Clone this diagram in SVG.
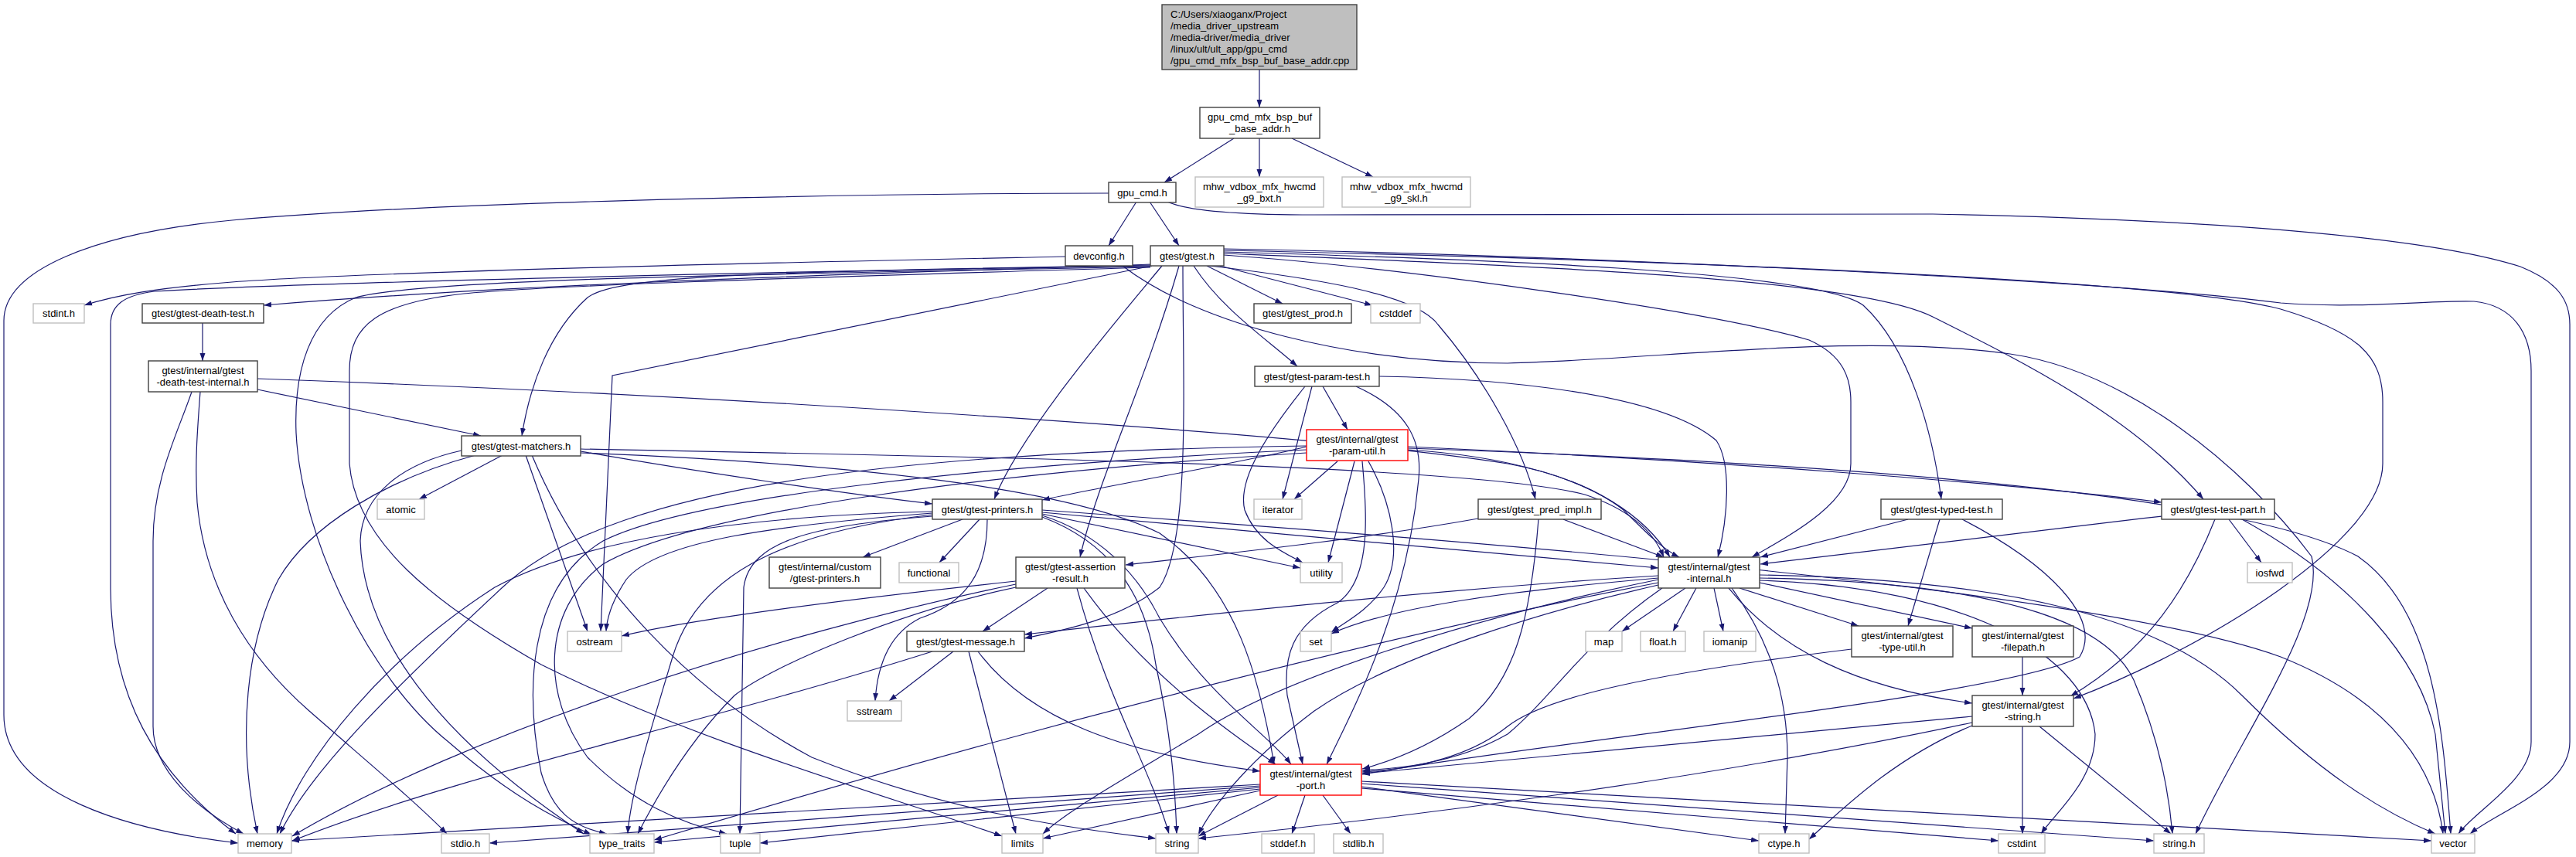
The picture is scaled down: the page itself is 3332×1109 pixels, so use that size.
<svg xmlns="http://www.w3.org/2000/svg" width="3332" height="1109" viewBox="0 0 3332 1109">
<defs>
<style>
.e{fill:none;stroke:#191970;stroke-width:1.2}
.n rect{fill:#fff;stroke:#404040;stroke-width:1.4}
.g rect{fill:#fff;stroke:#bfbfbf;stroke-width:1.4}
.r rect{fill:#fff;stroke:#ff0000;stroke-width:1.4}
.m rect{fill:#bfbfbf;stroke:#404040;stroke-width:1.4}
text{font-family:"Liberation Sans",Arial,sans-serif;font-size:13px;fill:#000;text-anchor:middle}
.m text{text-anchor:start}
</style>
<marker id="a" markerWidth="10" markerHeight="8" refX="10" refY="4" orient="auto" markerUnits="userSpaceOnUse"><path d="M0,0.5 L10,4 L0,7.5 z" fill="#191970"/></marker>
</defs>
<rect width="3332" height="1109" fill="#fff"/>
<g id="edges" class="e" marker-end="url(#a)">
<path d="M1629,90 L1629,139"/>
<path d="M1596,179 L1506,236"/>
<path d="M1629,179 L1629,229"/>
<path d="M1671,179 L1776,229"/>
<path d="M1470,261 L1434,318"/>
<path d="M1487,261 L1525,318"/>
<path d="M1434,250 C1200,250 600,258 300,285 C120,302 5,350 5,415 L5,925 C5,1030 170,1075 308,1091"/>
<path d="M1510,261 C1540,275 1620,278 1700,278 L2500,277 C2900,285 3150,310 3260,345 C3310,365 3324,390 3324,420 L3324,960 C3324,1020 3230,1050 3195,1079"/>
<path d="M1378,332 C1100,338 500,350 300,365 C200,373 150,382 109,395"/>
<path d="M1452,344 C1550,420 1750,470 1950,470 C2150,465 2400,430 2600,458 C2750,480 2900,600 2990,720 C3010,800 2900,950 2840,1079"/>
<path d="M1488,342 C1200,352 700,365 341,395"/>
<path d="M1488,343 C1100,350 400,365 200,377 C160,382 143,395 143,420 L143,760 C143,900 200,1000 305,1079"/>
<path d="M1488,345 C1000,355 550,360 460,385 C400,410 380,480 383,560 C390,700 480,880 580,960 C660,1030 720,1060 765,1080"/>
<path d="M1488,346 C1000,360 700,370 600,380 C490,392 452,420 452,480 L452,600 C460,700 560,780 700,860 C900,960 1150,1030 1296,1082"/>
<path d="M1488,344 C1000,352 800,355 760,385 C710,430 685,500 675,564"/>
<path d="M1490,344 L792,486 L777,817"/>
<path d="M1503,344 C1440,420 1320,560 1286,646"/>
<path d="M1525,344 C1480,500 1420,620 1397,721"/>
<path d="M1530,344 C1530,500 1540,700 1500,760 C1450,800 1380,815 1325,826"/>
<path d="M1544,344 C1580,400 1640,440 1678,474"/>
<path d="M1561,344 L1659,393"/>
<path d="M1578,344 L1775,395"/>
<path d="M1565,344 C1700,360 1830,380 1860,420 C1920,490 1970,580 1986,646"/>
<path d="M1583,330 C1800,345 2200,400 2340,440 C2385,460 2394,490 2394,520 L2394,600 C2394,650 2320,690 2266,721"/>
<path d="M1583,326 C1900,335 2350,350 2410,395 C2470,450 2500,560 2511,646"/>
<path d="M1583,328 C2000,345 2400,360 2500,410 C2620,470 2760,540 2850,646"/>
<path d="M1583,322 C2000,330 2700,360 2950,392 C3050,400 3150,388 3200,390 C3250,395 3274,430 3274,480 L3274,960 C3274,1010 3200,1050 3180,1079"/>
<path d="M1583,324 C2100,335 2800,360 2950,400 C3050,430 3082,460 3082,520 L3082,600 C3082,700 2850,840 2682,904"/>
<path d="M262,418 L262,467"/>
<path d="M333,490 C900,510 1700,560 1950,600 C2060,620 2130,670 2160,721"/>
<path d="M333,504 L622,564"/>
<path d="M248,507 C230,560 198,620 198,700 L198,940 C198,1000 260,1050 315,1079"/>
<path d="M259,507 C255,560 252,600 255,650 C265,760 320,850 400,920 C480,990 540,1040 578,1079"/>
<path d="M650,589 L542,646"/>
<path d="M615,589 C500,620 400,680 360,750 C320,830 305,950 333,1079"/>
<path d="M597,583 C520,600 468,640 466,700 C470,820 560,950 755,1079"/>
<path d="M680,589 L760,817"/>
<path d="M688,589 C760,760 900,900 1050,980 C1250,1060 1420,1075 1495,1085"/>
<path d="M751,584 C900,610 1100,640 1206,652"/>
<path d="M751,581 C1200,590 1900,600 2050,640 C2110,660 2140,690 2152,721"/>
<path d="M751,586 C1100,600 1380,630 1500,690 C1600,760 1630,880 1648,989"/>
<path d="M1245,672 L1116,721"/>
<path d="M1267,672 L1215,728"/>
<path d="M1277,672 C1277,740 1250,780 1190,800 C1150,820 1135,860 1132,907"/>
<path d="M1206,668 C1050,680 970,700 962,760 L957,1079"/>
<path d="M1206,666 C1000,690 900,750 870,850 C840,950 815,1030 812,1079"/>
<path d="M1206,662 C950,668 750,700 640,760 C500,850 390,980 358,1079"/>
<path d="M1206,664 C1000,680 850,700 810,750 C790,780 785,800 784,817"/>
<path d="M1348,663 L2145,735"/>
<path d="M1348,665 L1682,735"/>
<path d="M1348,660 C1900,700 2700,760 2950,850 C3100,910 3150,1000 3160,1079"/>
<path d="M1348,667 C1420,690 1470,740 1500,800 C1560,900 1640,950 1670,989"/>
<path d="M1348,669 C1430,700 1480,760 1495,860 C1515,950 1520,1020 1522,1079"/>
<path d="M1355,761 L1271,817"/>
<path d="M1314,752 C1100,775 900,800 804,823"/>
<path d="M1314,756 C1000,820 600,950 378,1082"/>
<path d="M1314,760 C1170,790 1000,860 950,900 C890,960 850,1030 825,1079"/>
<path d="M1393,761 C1430,900 1490,1000 1512,1079"/>
<path d="M1402,761 C1480,870 1580,940 1650,989"/>
<path d="M1233,843 L1150,907"/>
<path d="M1206,843 C900,940 600,1000 378,1088"/>
<path d="M1253,843 L1314,1079"/>
<path d="M1265,843 C1330,930 1450,975 1630,998"/>
<path d="M1711,500 L1743,556"/>
<path d="M1697,500 L1659,646"/>
<path d="M1688,500 C1640,560 1600,620 1610,660 C1625,700 1660,715 1685,728"/>
<path d="M1784,487 C1950,490 2150,510 2220,570 C2240,600 2235,670 2222,721"/>
<path d="M1754,500 C1820,530 1840,570 1835,620 C1820,780 1760,900 1716,989"/>
<path d="M1730,597 L1674,646"/>
<path d="M1752,597 L1718,728"/>
<path d="M1770,597 C1800,650 1815,720 1790,760 C1770,790 1740,805 1722,818"/>
<path d="M1762,597 C1768,660 1775,750 1730,780 C1670,810 1660,850 1665,900 L1685,989"/>
<path d="M1690,578 C1600,600 1450,625 1348,647"/>
<path d="M1821,578 C2200,595 2600,625 2796,650"/>
<path d="M1821,580 C2400,600 2900,640 3050,720 C3150,790 3160,950 3170,1079"/>
<path d="M1821,582 C1950,590 2050,620 2100,660 C2130,690 2150,710 2172,721"/>
<path d="M1690,577 C1200,585 800,620 650,760 C500,900 400,1000 362,1079"/>
<path d="M1690,582 C1300,600 900,640 780,700 C680,760 680,900 700,1000 C715,1050 740,1070 785,1079"/>
<path d="M1690,586 C1300,610 900,660 780,730 C700,790 700,900 760,980 C820,1040 880,1065 940,1079"/>
<path d="M1912,671 C1750,700 1550,720 1456,731"/>
<path d="M2022,672 L2152,721"/>
<path d="M1990,672 C1980,800 1960,880 1900,930 C1850,965 1800,985 1762,995"/>
<path d="M2468,672 L2277,721"/>
<path d="M2509,672 L2468,810"/>
<path d="M2538,672 C2650,730 2720,800 2690,850 C2600,900 2000,960 1762,1002"/>
<path d="M2797,668 C2600,690 2400,715 2277,730"/>
<path d="M2883,672 L2925,728"/>
<path d="M2865,672 C2830,760 2780,840 2678,901"/>
<path d="M2900,672 C3040,750 3130,850 3150,950 L3163,1079"/>
<path d="M2180,761 L2098,817"/>
<path d="M2194,761 L2164,817"/>
<path d="M2217,761 L2229,817"/>
<path d="M2240,761 C2290,830 2312,900 2312,980 L2309,1079"/>
<path d="M2250,761 L2404,810"/>
<path d="M2276,754 L2551,813"/>
<path d="M2236,761 C2300,840 2400,890 2551,910"/>
<path d="M2145,748 C1950,765 1800,785 1722,820"/>
<path d="M2145,745 C1900,760 1600,790 1325,821"/>
<path d="M2145,750 C1900,800 1650,880 1550,950 C1450,1010 1380,1050 1349,1079"/>
<path d="M2145,754 C1800,820 1300,950 846,1087"/>
<path d="M2145,757 C2000,790 1800,850 1700,920 C1620,980 1570,1040 1550,1080"/>
<path d="M2150,761 C2050,830 2010,900 1950,950 C1880,990 1800,995 1762,997"/>
<path d="M2276,744 C2600,750 2800,800 2900,900 C3000,1000 3080,1050 3150,1079"/>
<path d="M2276,748 C2620,754 2730,816 2760,880 C2790,950 2805,1020 2810,1079"/>
<path d="M2276,751 C2550,760 2700,850 2710,950 C2710,1010 2660,1050 2640,1079"/>
<path d="M2395,840 C2150,870 2000,900 1950,940 C1900,980 1830,995 1762,999"/>
<path d="M2616,850 L2616,900"/>
<path d="M2551,927 C2200,960 1900,990 1762,1001"/>
<path d="M2616,940 L2616,1079"/>
<path d="M2638,940 L2808,1079"/>
<path d="M2551,935 C2200,1010 1800,1060 1550,1085"/>
<path d="M2551,939 C2450,980 2380,1050 2340,1086"/>
<path d="M1630,1015 L377,1088"/>
<path d="M1630,1017 L633,1091"/>
<path d="M1630,1019 L846,1090"/>
<path d="M1630,1021 L983,1091"/>
<path d="M1630,1023 L1349,1085"/>
<path d="M1653,1029 L1550,1082"/>
<path d="M1688,1029 L1671,1079"/>
<path d="M1711,1029 L1747,1079"/>
<path d="M1761,1018 L2275,1088"/>
<path d="M1761,1020 L2585,1088"/>
<path d="M1761,1014 L2786,1088"/>
<path d="M1761,1011 L3145,1088"/>
</g>
<g id="nodes">
<g id="n0" class="m"><rect x="1503" y="6" width="252" height="84"/><text x="1514" y="22.5">C:/Users/xiaoganx/Project</text><text x="1514" y="37.5">/media_driver_upstream</text><text x="1514" y="52.5">/media-driver/media_driver</text><text x="1514" y="67.5">/linux/ult/ult_app/gpu_cmd</text><text x="1514" y="82.5">/gpu_cmd_mfx_bsp_buf_base_addr.cpp</text></g>
<g id="n1" class="n"><rect x="1552" y="139" width="155" height="40"/><text x="1629.5" y="156">gpu_cmd_mfx_bsp_buf</text><text x="1629.5" y="171">_base_addr.h</text></g>
<g id="n2" class="g"><rect x="1546" y="229" width="166" height="39"/><text x="1629" y="245.5">mhw_vdbox_mfx_hwcmd</text><text x="1629" y="260.5">_g9_bxt.h</text></g>
<g id="n3" class="g"><rect x="1736" y="229" width="166" height="39"/><text x="1819" y="245.5">mhw_vdbox_mfx_hwcmd</text><text x="1819" y="260.5">_g9_skl.h</text></g>
<g id="n4" class="n"><rect x="1434" y="236" width="87" height="26"/><text x="1477.5" y="253.5">gpu_cmd.h</text></g>
<g id="n5" class="n"><rect x="1378" y="318" width="87" height="26"/><text x="1421.5" y="335.5">devconfig.h</text></g>
<g id="n6" class="n"><rect x="1488" y="318" width="95" height="26"/><text x="1535.5" y="335.5">gtest/gtest.h</text></g>
<g id="n7" class="g"><rect x="43" y="393" width="66" height="25"/><text x="76" y="410">stdint.h</text></g>
<g id="n8" class="n"><rect x="184" y="393" width="157" height="25"/><text x="262.5" y="410">gtest/gtest-death-test.h</text></g>
<g id="n9" class="n"><rect x="1622" y="393" width="126" height="25"/><text x="1685" y="410">gtest/gtest_prod.h</text></g>
<g id="n10" class="g"><rect x="1773" y="393" width="64" height="25"/><text x="1805" y="410">cstddef</text></g>
<g id="n11" class="n"><rect x="192" y="467" width="141" height="40"/><text x="262.5" y="484">gtest/internal/gtest</text><text x="262.5" y="499">-death-test-internal.h</text></g>
<g id="n12" class="n"><rect x="1623" y="474" width="161" height="26"/><text x="1703.5" y="491.5">gtest/gtest-param-test.h</text></g>
<g id="n13" class="r"><rect x="1690" y="556" width="131" height="40"/><text x="1755.5" y="573">gtest/internal/gtest</text><text x="1755.5" y="588">-param-util.h</text></g>
<g id="n14" class="n"><rect x="597" y="564" width="154" height="26"/><text x="674" y="581.5">gtest/gtest-matchers.h</text></g>
<g id="n15" class="g"><rect x="488" y="646" width="61" height="26"/><text x="518.5" y="663.5">atomic</text></g>
<g id="n16" class="n"><rect x="1206" y="646" width="142" height="26"/><text x="1277" y="663.5">gtest/gtest-printers.h</text></g>
<g id="n17" class="g"><rect x="1622" y="646" width="62" height="26"/><text x="1653" y="663.5">iterator</text></g>
<g id="n18" class="n"><rect x="1912" y="646" width="159" height="26"/><text x="1991.5" y="663.5">gtest/gtest_pred_impl.h</text></g>
<g id="n19" class="n"><rect x="2433" y="646" width="157" height="26"/><text x="2511.5" y="663.5">gtest/gtest-typed-test.h</text></g>
<g id="n20" class="n"><rect x="2796" y="646" width="146" height="26"/><text x="2869" y="663.5">gtest/gtest-test-part.h</text></g>
<g id="n21" class="n"><rect x="995" y="721" width="144" height="40"/><text x="1067" y="738">gtest/internal/custom</text><text x="1067" y="753">/gtest-printers.h</text></g>
<g id="n22" class="g"><rect x="1163" y="728" width="77" height="26"/><text x="1201.5" y="745.5">functional</text></g>
<g id="n23" class="n"><rect x="1314" y="721" width="141" height="40"/><text x="1384.5" y="738">gtest/gtest-assertion</text><text x="1384.5" y="753">-result.h</text></g>
<g id="n24" class="g"><rect x="1682" y="728" width="54" height="26"/><text x="1709" y="745.5">utility</text></g>
<g id="n25" class="n"><rect x="2145" y="721" width="131" height="40"/><text x="2210.5" y="738">gtest/internal/gtest</text><text x="2210.5" y="753">-internal.h</text></g>
<g id="n26" class="g"><rect x="2907" y="728" width="58" height="26"/><text x="2936" y="745.5">iosfwd</text></g>
<g id="n27" class="g"><rect x="734" y="817" width="70" height="26"/><text x="769" y="834.5">ostream</text></g>
<g id="n28" class="n"><rect x="1173" y="817" width="152" height="26"/><text x="1249" y="834.5">gtest/gtest-message.h</text></g>
<g id="n29" class="g"><rect x="1682" y="817" width="40" height="26"/><text x="1702" y="834.5">set</text></g>
<g id="n30" class="g"><rect x="2051" y="817" width="47" height="26"/><text x="2074.5" y="834.5">map</text></g>
<g id="n31" class="g"><rect x="2122" y="817" width="58" height="26"/><text x="2151" y="834.5">float.h</text></g>
<g id="n32" class="g"><rect x="2204" y="817" width="67" height="26"/><text x="2237.5" y="834.5">iomanip</text></g>
<g id="n33" class="n"><rect x="2395" y="810" width="131" height="40"/><text x="2460.5" y="827">gtest/internal/gtest</text><text x="2460.5" y="842">-type-util.h</text></g>
<g id="n34" class="n"><rect x="2551" y="810" width="131" height="40"/><text x="2616.5" y="827">gtest/internal/gtest</text><text x="2616.5" y="842">-filepath.h</text></g>
<g id="n35" class="g"><rect x="1096" y="907" width="70" height="26"/><text x="1131" y="924.5">sstream</text></g>
<g id="n36" class="n"><rect x="2551" y="900" width="131" height="40"/><text x="2616.5" y="917">gtest/internal/gtest</text><text x="2616.5" y="932">-string.h</text></g>
<g id="n37" class="r"><rect x="1630" y="989" width="131" height="40"/><text x="1695.5" y="1006">gtest/internal/gtest</text><text x="1695.5" y="1021">-port.h</text></g>
<g id="n38" class="g"><rect x="308" y="1079" width="69" height="25"/><text x="342.5" y="1096">memory</text></g>
<g id="n39" class="g"><rect x="571" y="1079" width="62" height="25"/><text x="602" y="1096">stdio.h</text></g>
<g id="n40" class="g"><rect x="763" y="1079" width="83" height="25"/><text x="804.5" y="1096">type_traits</text></g>
<g id="n41" class="g"><rect x="932" y="1079" width="51" height="25"/><text x="957.5" y="1096">tuple</text></g>
<g id="n42" class="g"><rect x="1296" y="1079" width="53" height="25"/><text x="1322.5" y="1096">limits</text></g>
<g id="n43" class="g"><rect x="1495" y="1079" width="55" height="25"/><text x="1522.5" y="1096">string</text></g>
<g id="n44" class="g"><rect x="1632" y="1079" width="68" height="25"/><text x="1666" y="1096">stddef.h</text></g>
<g id="n45" class="g"><rect x="1725" y="1079" width="64" height="25"/><text x="1757" y="1096">stdlib.h</text></g>
<g id="n46" class="g"><rect x="2275" y="1079" width="65" height="25"/><text x="2307.5" y="1096">ctype.h</text></g>
<g id="n47" class="g"><rect x="2585" y="1079" width="60" height="25"/><text x="2615" y="1096">cstdint</text></g>
<g id="n48" class="g"><rect x="2786" y="1079" width="65" height="25"/><text x="2818.5" y="1096">string.h</text></g>
<g id="n49" class="g"><rect x="3145" y="1079" width="56" height="25"/><text x="3173" y="1096">vector</text></g>
</g>
</svg>
